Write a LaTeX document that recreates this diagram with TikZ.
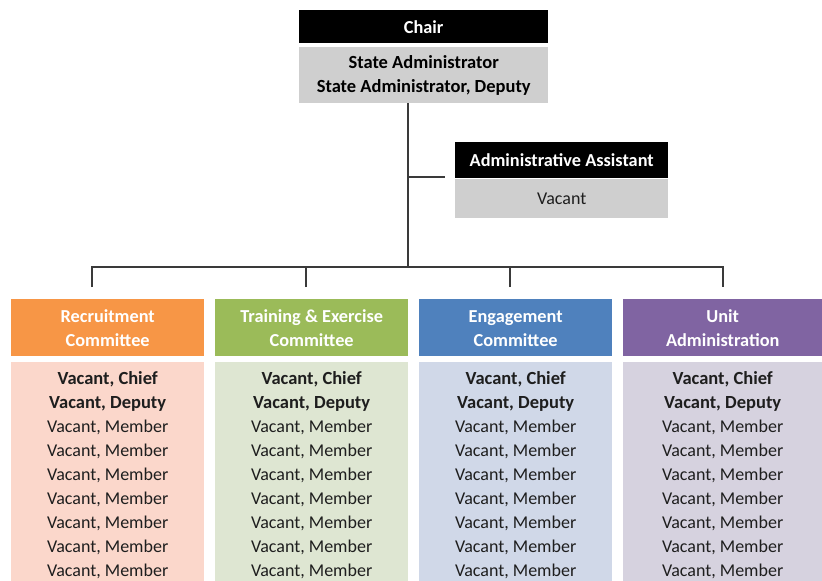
\documentclass[tikz,border=0pt]{standalone}
\usepackage{fontspec}
\setmainfont{Carlito}
\definecolor{lineg}{HTML}{3A3A3A}
\definecolor{boxgray}{HTML}{CFCFCF}
\definecolor{orh}{HTML}{F79646}
\definecolor{orb}{HTML}{FBD7CB}
\definecolor{grh}{HTML}{9BBB59}
\definecolor{grb}{HTML}{DEE6D2}
\definecolor{blh}{HTML}{4F81BD}
\definecolor{blb}{HTML}{D0D8E8}
\definecolor{puh}{HTML}{8064A2}
\definecolor{pub}{HTML}{D6D2DF}
\definecolor{txt}{HTML}{1E1E1E}
\tikzset{
  boxn/.style={rectangle, inner sep=0pt, anchor=north west, draw=none},
  headtxt/.style={text=white, font=\fontsize{18.3}{24}\selectfont\bfseries, align=center, inner sep=0pt},
  headline/.style={headtxt, anchor=base},
  graytxt/.style={text=black, font=\fontsize{18.5}{24}\selectfont\bfseries, align=center, inner sep=0pt},
  rowtxt/.style={text=txt, font=\fontsize{18}{24}\selectfont, anchor=base, inner sep=0pt},
  rowbold/.style={rowtxt, font=\fontsize{18.5}{24}\selectfont\bfseries},
  conn/.style={draw=lineg, line width=1.4pt}
}
\begin{document}
\begin{tikzpicture}[x=1pt,y=-1pt]
\useasboundingbox[fill=white] (0,0) rectangle (822,581);
\clip (0,0) rectangle (822,581);
% Chair
\node[boxn, fill=black, minimum width=249pt, minimum height=33pt] (chairhead) at (299,10) {};
\node[headtxt] at (chairhead.center) {Chair};
\node[boxn, fill=boxgray, minimum width=249pt, minimum height=56pt] (chairbody) at (299,47) {};
\node[graytxt] at (chairbody.center) {State Administrator\\State Administrator, Deputy};
% Admin assistant
\node[boxn, fill=black, minimum width=213pt, minimum height=36pt] (adminhead) at (455,142) {};
\node[headtxt] at (adminhead.center) {Administrative Assistant};
\node[boxn, fill=boxgray, minimum width=213pt, minimum height=39pt] (adminbody) at (455,179) {};
\node[text=txt, font=\fontsize{18}{24}\selectfont, inner sep=0pt] at (adminbody.center) {Vacant};
% Committees
\foreach \n/\x/\w/\hc/\bc/\ta/\tb in {rec/11/193/orh/orb/Recruitment/Committee,
                                 trn/215/193/grh/grb/{Training \& Exercise}/Committee,
                                 eng/419/193/blh/blb/Engagement/Committee,
                                 uni/623/199/puh/pub/Unit/Administration}{
  \node[boxn, fill=\hc, minimum width=\w pt, minimum height=57pt] (\n head) at (\x,299) {};
  \node[headline] at ([yshift=-23pt]\n head.north) {\ta};
  \node[headline] at ([yshift=-47pt]\n head.north) {\tb};
  \node[boxn, fill=\bc, minimum width=\w pt, minimum height=240pt] (\n body) at (\x,362) {};
  \node[rowbold] at ([yshift=-22pt]\n body.north) {Vacant, Chief};
  \node[rowbold] at ([yshift=-46pt]\n body.north) {Vacant, Deputy};
  \foreach \i in {0,...,6}{
    \node[rowtxt] at ([yshift=-70pt-\i*24pt]\n body.north) {Vacant, Member};
  }
}
% connectors
\coordinate (trunk) at (408,267);
\coordinate (abr) at (445,177);
\coordinate (d1) at (92,287);
\coordinate (d2) at (306,287);
\coordinate (d3) at (510,287);
\coordinate (d4) at (723,287);
\draw[conn] (chairbody.south -| trunk) -- (trunk);
\draw[conn] (abr -| trunk) -- (abr);
\draw[conn] (d1) |- (trunk) -| (d4);
\draw[conn] (d2) -- (d2 |- trunk);
\draw[conn] (d3) -- (d3 |- trunk);
\end{tikzpicture}
\end{document}
